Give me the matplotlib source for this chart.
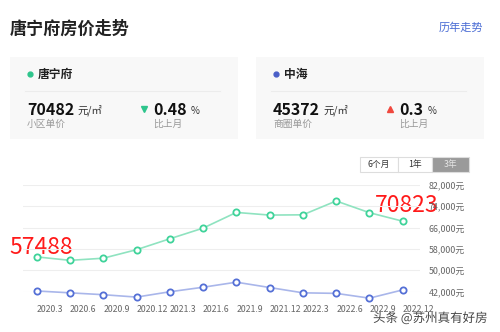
import matplotlib
matplotlib.use('Agg')
import matplotlib.pyplot as plt
from matplotlib.patches import Rectangle
import matplotlib.patheffects as pe

plt.rcParams['font.family'] = ['Noto Sans CJK SC', 'DejaVu Sans']

# data
months = ['2020.3', '2020.6', '2020.9', '2020.12', '2021.3', '2021.6',
          '2021.9', '2021.12', '2022.3', '2022.6', '2022.9', '2022.12']
tangningfu = [55000, 53700, 54500, 57700, 61800, 65800,
              71700, 70700, 70800, 76000, 71600, 68400]
zhonghai = [42200, 41500, 40800, 39900, 41900, 43600,
            45500, 43500, 41500, 41300, 39500, 42600]
yticks = [42000, 50000, 58000, 66000, 74000, 82000]

W, H = 500, 332
fig = plt.figure(figsize=(5, 3.32), dpi=100)

# background layer in pixel coords (y down)
bg = fig.add_axes([0, 0, 1, 1])
bg.set_xlim(0, W)
bg.set_ylim(H, 0)
bg.axis('off')

bg.text(10, 29, '唐宁府房价走势', fontsize=12.3, fontweight='bold', color='#222222', va='center')
bg.text(483, 28, '历年走势', fontsize=8, color='#4a6cd4', va='center', ha='right')

cards = [
    (10, '唐宁府', '#2ec58c', '70482', '小区单价', '0.48', 'v', '#2ec58c'),
    (256, '中海', '#4a5fc8', '45372', '商圈单价', '0.3', '^', '#f0483e'),
]
for x0, name, dot, price, sub, pct, mk, mkc in cards:
    bg.add_patch(Rectangle((x0, 57), 228, 82, facecolor='#f8f8f8', edgecolor='none'))
    bg.plot([x0 + 15, x0 + 210], [91, 91], color='#ececec', lw=0.8)
    bg.plot(x0 + 20, 74, 'o', color=dot, ms=3.5)
    bg.text(x0 + 28, 74, name, fontsize=8.5, color='#222222', va='center', fontweight='bold')
    t = bg.text(x0 + 17, 110, price, fontsize=11.5, fontweight='bold', color='#111111', va='center')
    bg.annotate('元/㎡', xy=(1, 0.5), xycoords=t, xytext=(2.5, -0.5), textcoords='offset points',
                fontsize=7.5, color='#333333', va='center')
    bg.text(x0 + 17, 124, sub, fontsize=7, color='#999999', va='center')
    bg.plot(x0 + 134, 109, mk, color=mkc, ms=4.5)
    px = x0 + 143
    t2 = bg.text(px, 110, pct, fontsize=11.5, fontweight='bold', color='#111111', va='center')
    bg.annotate('%', xy=(1, 0.5), xycoords=t2, xytext=(3, -0.5), textcoords='offset points',
                fontsize=7, color='#333333', va='center')
    bg.text(px, 124, '比上月', fontsize=7, color='#999999', va='center')

# period buttons
btns = [(360, 398, '6个月', False), (398, 432, '1年', False), (432, 469, '3年', True)]
for a, b, lab, on in btns:
    bg.add_patch(Rectangle((a, 157), b - a, 15, facecolor='#9a9a9a' if on else 'white',
                           edgecolor='#dddddd', lw=0.8))
    bg.text((a + b) / 2, 164.5, lab, fontsize=6.3, ha='center', va='center',
            color='#e6e6e6' if on else '#333333')

# chart axes
left, right = 23 / W, 420 / W
bottom, top = (H - 291.5) / H, (H - 185) / H
ax = fig.add_axes([left, bottom, right - left, top - bottom])
ax.set_facecolor('none')
x = list(range(len(months)))
ax.set_xlim(-0.412, 11.52)
ax.set_ylim(42000, 82000)
for v in yticks:
    ax.axhline(v, color='#eeeeee', lw=0.8, zorder=0)

ax.plot(x, tangningfu, color='#8fe3c0', lw=1.2, zorder=2, clip_on=False)
ax.plot(x, tangningfu, 'o', ms=4.5, mfc='white', mec='#3fd39a', mew=1.3, zorder=3, clip_on=False)
ax.plot(x, zhonghai, color='#a9b6ea', lw=1.2, zorder=2, clip_on=False)
ax.plot(x, zhonghai, 'o', ms=4.5, mfc='white', mec='#5570d6', mew=1.3, zorder=3, clip_on=False)

for s in ax.spines.values():
    s.set_visible(False)
ax.yaxis.tick_right()
ax.set_yticks(yticks)
ax.set_yticklabels(['{:,}元'.format(v) for v in yticks], fontsize=6.4, color='#666666')
ax.tick_params(axis='y', length=0, pad=6)
ax.set_xticks(x)
ax.set_xticklabels(months, fontsize=6.3, color='#666666', ha='left')
ax.tick_params(axis='x', length=0, pad=10)

# red annotations
bg.text(9, 247, '57488', fontsize=16.5, color='#ff1a1a', va='center')
bg.text(375, 206, '70823', fontsize=16.5, color='#ff1a1a', va='center')

bg.text(373, 318, '头条 @苏州真有好房', fontsize=9, color='#444444', va='center',
        path_effects=[pe.withStroke(linewidth=2, foreground='white')])

fig.savefig('out.png', dpi=100)
